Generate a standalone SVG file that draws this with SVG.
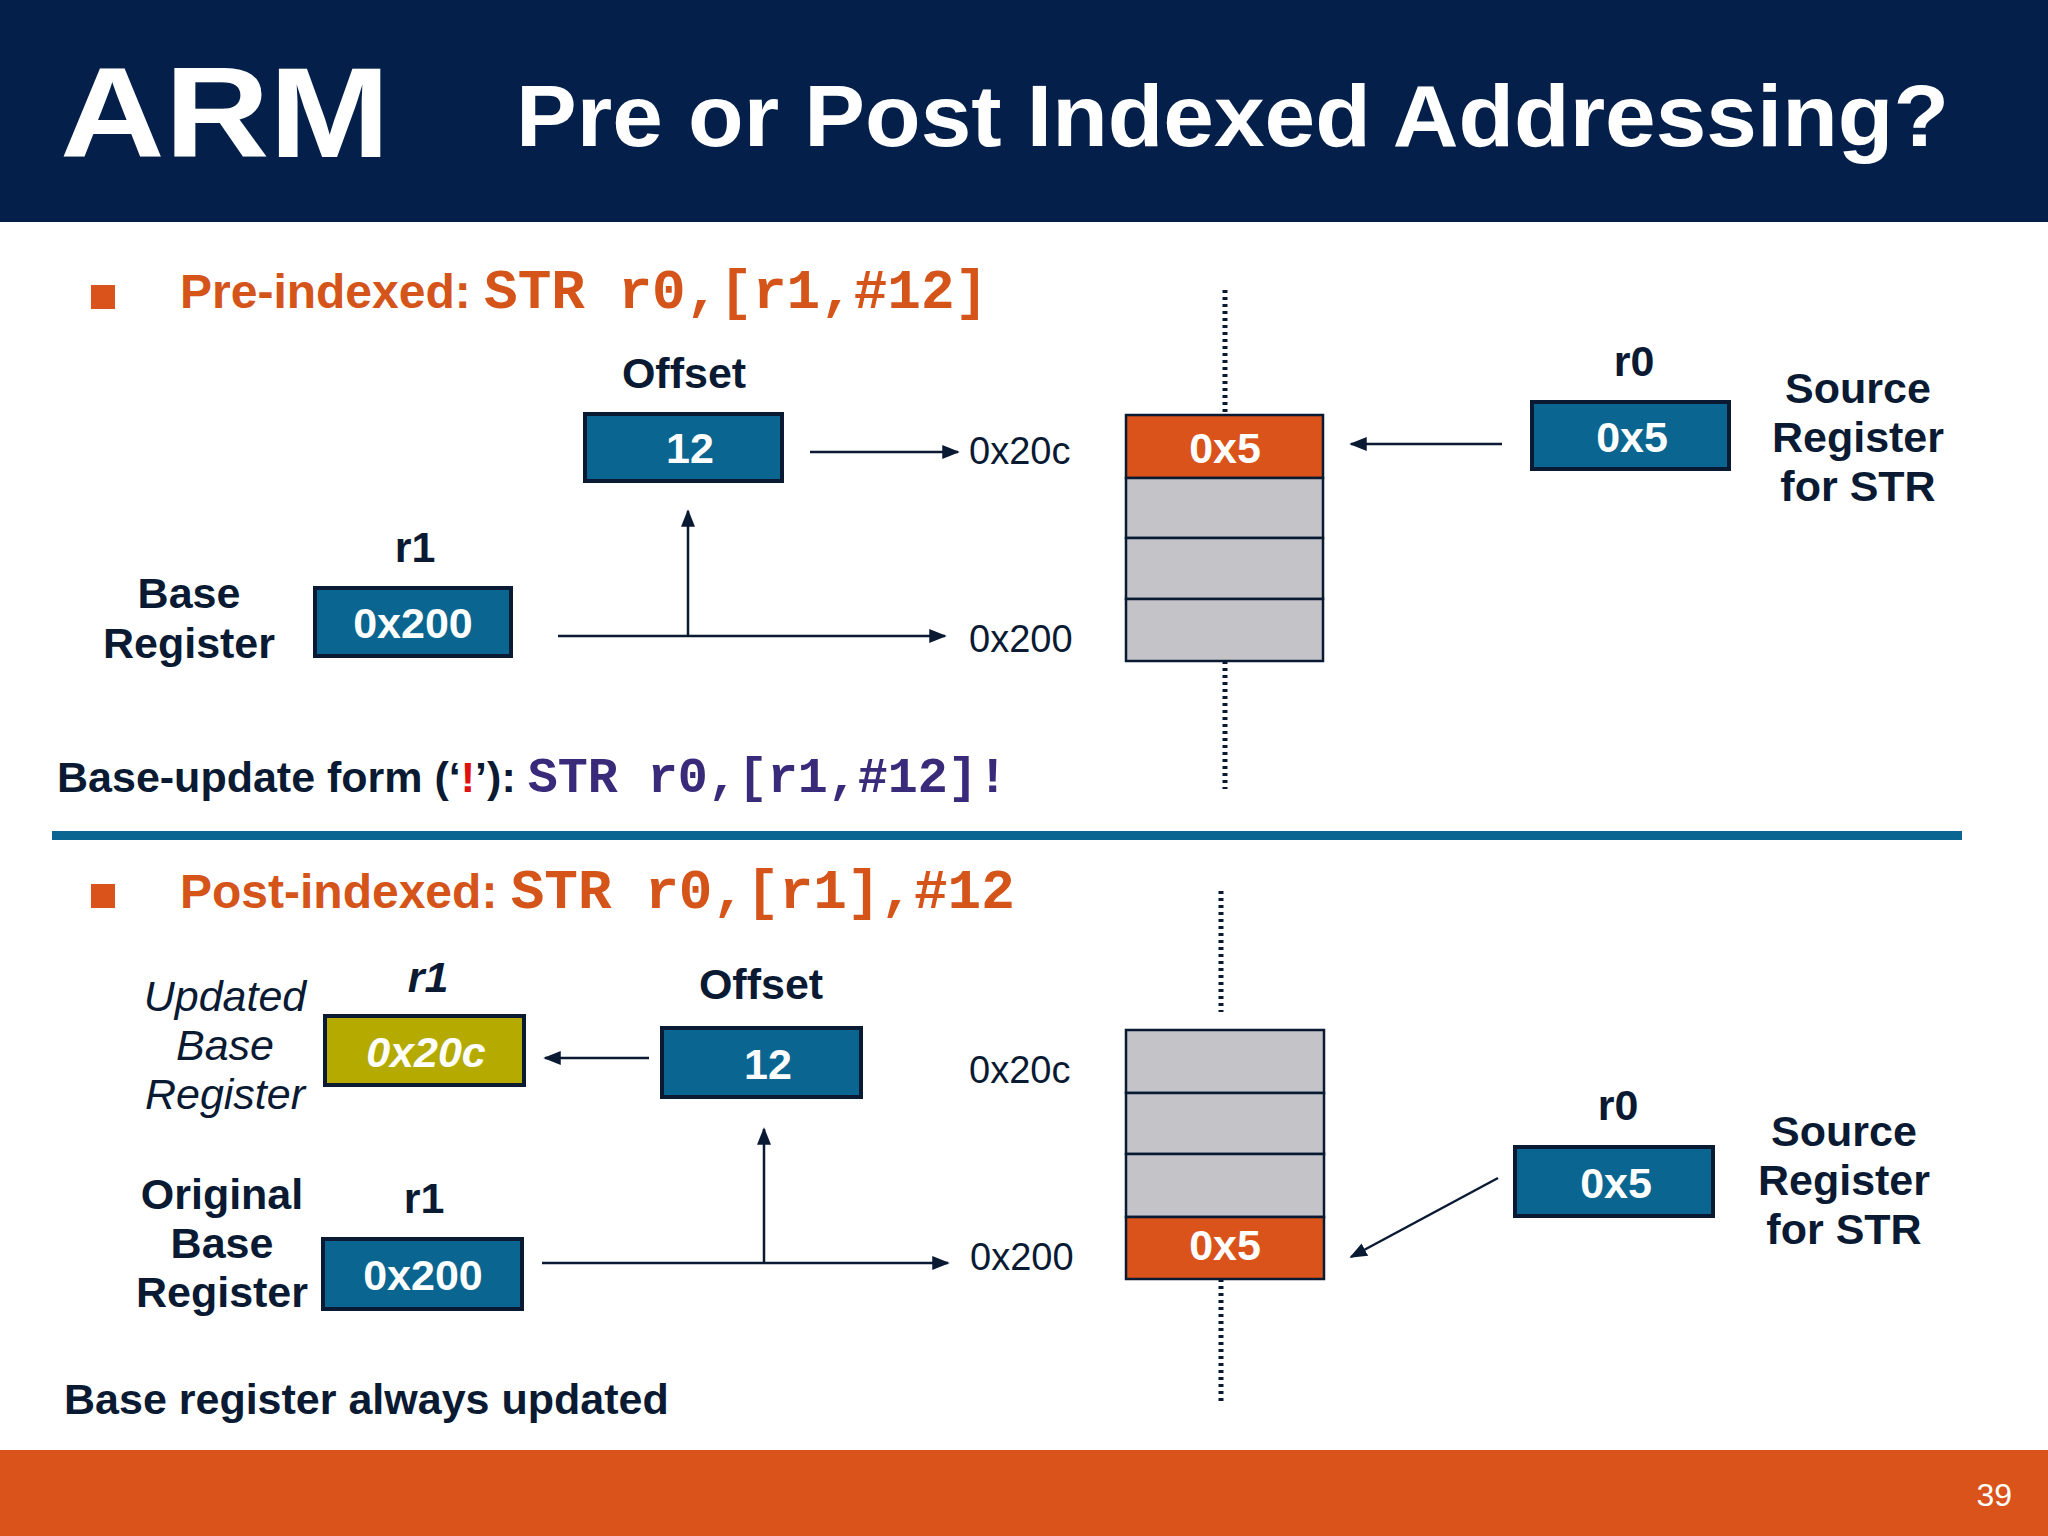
<svg xmlns="http://www.w3.org/2000/svg" width="2048" height="1536" viewBox="0 0 2048 1536">
<defs>
<marker id="ah" viewBox="0 0 10 10" refX="9" refY="5" markerWidth="7" markerHeight="7" orient="auto"><path d="M0,1 L10,5 L0,9 z" fill="#0a1a33"/></marker>
<style>
.s{font-family:"Liberation Sans",Arial,sans-serif}
.b{font-weight:bold}
.lbl{font-family:"Liberation Sans",Arial,sans-serif;font-weight:bold;font-size:43px;fill:#0a1a33;text-anchor:middle}
.it{font-style:italic;font-weight:normal}
.addr{font-family:"Liberation Sans",Arial,sans-serif;font-size:38px;fill:#0a1a33}
.box{fill:#0a6690;stroke:#0a1a33;stroke-width:4}
.bt{font-family:"Liberation Sans",Arial,sans-serif;font-weight:bold;font-size:43px;fill:#fff;text-anchor:middle}
.mem{fill:#c4c3c8;stroke:#0a1a33;stroke-width:2.5}
.memo{fill:#d9531a;stroke:#0a1a33;stroke-width:2.5}
.ln{stroke:#0a1a33;stroke-width:2.5;fill:none}
.dot{stroke:#0a1a33;stroke-width:5;stroke-dasharray:3 4;fill:none}
.mono{font-family:"Liberation Mono","Courier New",monospace;font-weight:bold}
</style>
</defs>
<rect width="2048" height="1536" fill="#fff"/>
<rect width="2048" height="222" fill="#04204a"/>
<text x="60" y="157" class="s b" font-size="128" fill="#fff" textLength="330" lengthAdjust="spacingAndGlyphs">ARM</text>
<text x="516" y="146" class="s b" font-size="88" fill="#fff" textLength="1433" lengthAdjust="spacingAndGlyphs">Pre or Post Indexed Addressing?</text>
<rect y="1450" width="2048" height="86" fill="#d9531a"/>
<text x="2012" y="1506" class="s" font-size="32" fill="#fff" text-anchor="end">39</text>

<g id="pre-title">
<rect x="91" y="285" width="24" height="24" fill="#d9531a"/>
<text x="180" y="308" font-size="48" fill="#d4541a"><tspan class="s b">Pre-indexed: </tspan><tspan class="mono" font-size="56">STR r0,[r1,#12]</tspan></text>
</g>
<g id="pre-offset">
<text x="684" y="388" class="lbl">Offset</text>
<rect x="585" y="414" width="197" height="67" class="box"/>
<text x="690" y="463" class="bt">12</text>
</g>
<g id="pre-mem">
<rect x="1126" y="415" width="197" height="63" class="memo"/>
<text x="1225" y="463" class="bt">0x5</text>
<rect x="1126" y="478" width="197" height="60" class="mem"/>
<rect x="1126" y="538" width="197" height="61" class="mem"/>
<rect x="1126" y="599" width="197" height="62" class="mem"/>
</g>
<g id="pre-r0">
<text x="1634" y="376" class="lbl">r0</text>
<rect x="1532" y="402" width="197" height="67" class="box"/>
<text x="1632" y="452" class="bt">0x5</text>
<text class="lbl" x="1858"><tspan x="1858" y="403">Source</tspan><tspan x="1858" y="452">Register</tspan><tspan x="1858" y="501">for STR</tspan></text>
</g>
<g id="pre-r1">
<text x="415" y="562" class="lbl">r1</text>
<rect x="315" y="588" width="196" height="68" class="box"/>
<text x="413" y="638" class="bt">0x200</text>
<text class="lbl"><tspan x="189" y="608">Base</tspan><tspan x="189" y="658">Register</tspan></text>
</g>
<text x="969" y="464" class="addr">0x20c</text>
<text x="969" y="652" class="addr">0x200</text>
<text x="57" y="792" font-size="43" fill="#0a1a33"><tspan class="s b">Base-update form (‘</tspan><tspan class="s b" fill="#e01010">!</tspan><tspan class="s b">’): </tspan><tspan class="mono" font-size="50" fill="#3a2a7a">STR r0,[r1,#12]!</tspan></text>
<rect x="52" y="831" width="1910" height="9" fill="#0a6690"/>

<g id="post-title">
<rect x="91" y="884" width="24" height="24" fill="#d9531a"/>
<text x="180" y="908" font-size="48" fill="#d4541a"><tspan class="s b">Post-indexed: </tspan><tspan class="mono" font-size="56">STR r0,[r1],#12</tspan></text>
</g>
<g id="post-upd">
<text class="lbl it"><tspan x="225" y="1011">Updated</tspan><tspan x="225" y="1060">Base</tspan><tspan x="225" y="1109">Register</tspan></text>
<text x="428" y="992" class="lbl" font-style="italic">r1</text>
<rect x="325" y="1016" width="199" height="69" fill="#b5ab00" stroke="#0a1a33" stroke-width="4"/>
<text x="426" y="1067" class="bt it" fill="#f4f2d6">0x20c</text>
</g>
<g id="post-offset">
<text x="761" y="999" class="lbl">Offset</text>
<rect x="662" y="1028" width="199" height="69" class="box"/>
<text x="768" y="1079" class="bt">12</text>
</g>
<g id="post-mem">
<rect x="1126" y="1030" width="198" height="63" class="mem"/>
<rect x="1126" y="1093" width="198" height="61" class="mem"/>
<rect x="1126" y="1154" width="198" height="63" class="mem"/>
<rect x="1126" y="1217" width="198" height="62" class="memo"/>
<text x="1225" y="1260" class="bt">0x5</text>
</g>
<g id="post-r0">
<text x="1618" y="1120" class="lbl">r0</text>
<rect x="1515" y="1147" width="198" height="69" class="box"/>
<text x="1616" y="1198" class="bt">0x5</text>
<text class="lbl"><tspan x="1844" y="1146">Source</tspan><tspan x="1844" y="1195">Register</tspan><tspan x="1844" y="1244">for STR</tspan></text>
</g>
<g id="post-r1">
<text class="lbl"><tspan x="222" y="1209">Original</tspan><tspan x="222" y="1258">Base</tspan><tspan x="222" y="1307">Register</tspan></text>
<text x="424" y="1213" class="lbl">r1</text>
<rect x="323" y="1239" width="199" height="70" class="box"/>
<text x="423" y="1290" class="bt">0x200</text>
</g>
<text x="969" y="1083" class="addr">0x20c</text>
<text x="970" y="1270" class="addr">0x200</text>
<text x="64" y="1414" class="s b" font-size="43" fill="#0a1a33">Base register always updated</text>

<g id="connectors">
<path class="dot" d="M1225,290 V415 M1225,661 V789 M1221,891 V1012 M1221,1279 V1404"/>
<path class="ln" d="M810,452 H958" marker-end="url(#ah)"/>
<path class="ln" d="M558,636 H945" marker-end="url(#ah)"/>
<path class="ln" d="M688,636 V511" marker-end="url(#ah)"/>
<path class="ln" d="M1502,444 H1351" stroke-width="4" marker-end="url(#ah)"/>
<path class="ln" d="M649,1058 H545" marker-end="url(#ah)"/>
<path class="ln" d="M542,1263 H948" marker-end="url(#ah)"/>
<path class="ln" d="M764,1263 V1129" marker-end="url(#ah)"/>
<path class="ln" d="M1498,1178 L1351,1257" stroke-width="4" marker-end="url(#ah)"/>
</g>
</svg>
